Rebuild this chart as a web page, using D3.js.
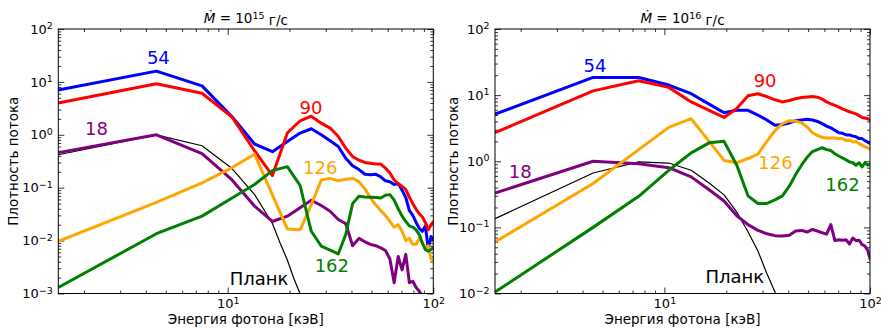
<!DOCTYPE html>
<html>
<head>
<meta charset="utf-8">
<script src="https://cdn.jsdelivr.net/npm/d3@7"></script>
<style>
  body { margin: 0; background: #fff; }
  svg { display: block; }
  text { font-family: "DejaVu Sans", sans-serif; }
</style>
</head>
<body>
<svg id="chart" width="881" height="328"></svg>
<script>
// Photon energy bin centres, keV
const energyKeV = [1.5, 4.5, 7.5, 10.5, 13.5, 16.5, 19.5, 22.5, 25.5, 28.5, 31.5, 34.5,
  37.5, 40.5, 43.5, 46.5, 49.5, 52.5, 55.5, 58.5, 61.5, 64.5, 67.5, 70.5, 73.5, 76.5,
  79.5, 82.5, 85.5, 88.5, 91.5, 94.5, 97.5, 100.5];

// Accretion rate 1e15 g/s: flux density for viewing angles 18, 54, 90, 126, 162 deg
const rate15_theta18 = [0.46, 1.0, 0.44, 0.14, 0.045, 0.023, 0.029, 0.042, 0.058, 0.046, 0.036, 0.025,
  0.021, 0.008, 0.011, 0.0095, 0.0085, 0.008, 0.0073, 0.0065, 0.0045, 0.0016, 0.005, 0.0028, 0.0055, 0.0016,
  0.0017, 0.0013, 0.0011, 0.0009, 0.0008, 0.0007, 0.0006, 0.0006];
const rate15_theta54 = [7.0, 16, 8.4, 2.2, 0.67, 0.48, 0.75, 1.08, 1.30, 1.0, 0.77, 0.60,
  0.36, 0.26, 0.22, 0.18, 0.175, 0.18, 0.16, 0.135, 0.13, 0.115, 0.12, 0.09, 0.065, 0.037,
  0.03, 0.022, 0.017, 0.015, 0.019, 0.007, 0.012, 0.01];
const rate15_theta90 = [4.0, 9.2, 6.1, 2.16, 0.5, 0.17, 1.08, 1.84, 2.25, 1.66, 1.34, 0.93,
  0.56, 0.39, 0.33, 0.30, 0.29, 0.28, 0.28, 0.235, 0.19, 0.14, 0.12, 0.106, 0.092, 0.066,
  0.05, 0.039, 0.032, 0.028, 0.022, 0.016, 0.02, 0.023];
const rate15_theta126 = [0.0097, 0.053, 0.123, 0.24, 0.43, 0.073, 0.0166, 0.016, 0.048, 0.14, 0.15, 0.135,
  0.145, 0.15, 0.13, 0.095, 0.064, 0.047, 0.037, 0.03, 0.023, 0.018, 0.02, 0.015, 0.01, 0.011,
  0.0085, 0.0085, 0.011, 0.009, 0.0068, 0.008, 0.0045, 0.004];
const rate15_theta162 = [0.0013, 0.0135, 0.029, 0.064, 0.115, 0.21, 0.25, 0.11, 0.015, 0.0079, 0.0066, 0.0056,
  0.013, 0.05, 0.069, 0.067, 0.066, 0.065, 0.064, 0.072, 0.074, 0.058, 0.04, 0.029, 0.023, 0.019,
  0.018, 0.016, 0.013, 0.009, 0.0068, 0.0063, 0.0068, 0.0075];
const planck15Energy = [1.5, 4.5, 7.5, 10.5, 13.5, 16.5, 18, 19.5, 21, 22.5, 24];
const planck15Flux = [0.42, 1.0, 0.62, 0.23, 0.075, 0.021, 0.0089, 0.0043, 0.0019, 0.00099, 0.0004];

// Accretion rate 1e16 g/s
const rate16_theta18 = [0.33, 1.0, 0.92, 0.80, 0.58, 0.37, 0.25, 0.15, 0.11, 0.09, 0.08, 0.075,
  0.074, 0.076, 0.088, 0.09, 0.085, 0.093, 0.088, 0.083, 0.079, 0.11, 0.063, 0.065, 0.064, 0.065,
  0.056, 0.069, 0.063, 0.064, 0.055, 0.052, 0.045, 0.032];
const rate16_theta54 = [5.15, 18.5, 18.5, 14.2, 10.5, 7.3, 5.4, 5.9, 5.9, 5.0, 4.2, 3.5,
  3.6, 3.8, 4.1, 4.2, 4.3, 4.2, 4.0, 3.7, 3.4, 3.2, 2.95, 2.7, 2.65, 2.5,
  2.5, 2.4, 2.35, 2.2, 2.2, 2.05, 1.95, 1.85];
const rate16_theta90 = [2.7, 11.6, 16.5, 13.1, 7.9, 5.9, 4.6, 6.3, 9.8, 10.5, 9.5, 8.5,
  7.9, 8.3, 8.8, 9.2, 9.4, 9.5, 9.3, 8.7, 7.9, 7.4, 7.0, 6.6, 6.2, 5.9,
  5.6, 5.4, 5.2, 4.9, 4.6, 4.5, 4.4, 4.2];
const rate16_theta126 = [0.06, 0.46, 1.5, 3.25, 4.4, 2.0, 1.03, 0.95, 1.1, 1.28, 2.0, 2.9,
  3.7, 4.1, 4.05, 3.8, 3.3, 2.7, 2.45, 2.3, 2.25, 2.25, 2.25, 2.2, 2.2, 2.05,
  2.1, 1.95, 2.0, 1.85, 1.75, 1.65, 1.6, 1.5];
const rate16_theta162 = [0.0105, 0.10, 0.295, 0.73, 1.34, 1.9, 2.0, 0.87, 0.3, 0.23, 0.23, 0.26,
  0.3, 0.42, 0.63, 0.88, 1.15, 1.4, 1.5, 1.6, 1.5, 1.45, 1.3, 1.2, 1.12, 1.05,
  0.98, 0.95, 0.87, 0.95, 0.82, 0.95, 0.87, 0.92];
const planck16Energy = [1.5, 4.5, 7.5, 10.5, 13.5, 16.5, 19.5, 22.5, 25.5, 28.5, 31.5, 34.5, 37.5];
const planck16Flux = [0.135, 0.665, 0.98, 0.94, 0.73, 0.47, 0.31, 0.17, 0.086, 0.044, 0.02, 0.0105, 0.005];

// Curve annotations: angle text and where it sits (energy, flux)
const angleLabels = ["18", "54", "90", "126", "162"];
const label15Energy = [2.3, 4.6, 25.4, 28.2, 32.1];
const label15Flux = [1.33, 28.4, 3.3, 0.244, 0.00337];
const label16Energy = [1.99, 4.6, 30.9, 34.7, 73.5];
const label16Flux = [0.69, 28, 16.9, 0.95, 0.449];
const planckLabel = "Планк";
const planckLabel15 = [14.2, 0.00192];
const planckLabel16 = [22.0, 0.0178];

const rateExponents = ["15", "16"];
const energyDomain = [1.5, 100];
const flux15Domain = [1e-3, 1e2];
const flux16Domain = [1e-2, 1e2];

const angleColors = ["#800080", "#0000ff", "#ff0000", "#ffa500", "#008000"];

const svg = d3.select("#chart");
const plotTop = 29, plotBottom = 293.5;

const panels = [
  { id: "p15", x0: 58.3, x1: 433.3, yDomain: flux15Domain, exp: rateExponents[0],
    series: [rate15_theta18, rate15_theta54, rate15_theta90, rate15_theta126, rate15_theta162],
    planckE: planck15Energy, planckF: planck15Flux,
    labE: label15Energy, labF: label15Flux, planckPos: planckLabel15, ylabX: 18.3 },
  { id: "p16", x0: 495, x1: 870, yDomain: flux16Domain, exp: rateExponents[1],
    series: [rate16_theta18, rate16_theta54, rate16_theta90, rate16_theta126, rate16_theta162],
    planckE: planck16Energy, planckF: planck16Flux,
    labE: label16Energy, labF: label16Flux, planckPos: planckLabel16, ylabX: 457.5 }
];

const isDecade = v => Math.abs(Math.log10(v) - Math.round(Math.log10(v))) < 1e-9;

// "10" with a raised exponent
function powerLabel(textSel) {
  textSel.each(function (d) {
    const e = Math.round(Math.log10(d));
    const t = d3.select(this).text(null);
    t.append("tspan").text("10");
    t.append("tspan").attr("dy", "-0.48em").attr("font-size", "9.5px")
      .text(e < 0 ? "\u2212" + (-e) : String(e));
  });
}

function styleAxis(g) {
  g.attr("font-family", "DejaVu Sans, sans-serif").attr("font-size", 13);
  g.select(".domain").remove();
  g.selectAll(".tick line").attr("stroke", "#000").attr("stroke-width", 0.8);
  g.selectAll(".tick text").attr("fill", "#000");
}

panels.forEach(p => {
  const x = d3.scaleLog().domain(energyDomain).range([p.x0, p.x1]);
  const y = d3.scaleLog().domain(p.yDomain).range([plotBottom, plotTop]);
  const g = svg.append("g");

  g.append("clipPath").attr("id", "clip-" + p.id)
    .append("rect").attr("x", p.x0).attr("y", plotTop)
    .attr("width", p.x1 - p.x0).attr("height", plotBottom - plotTop);

  const xMajor = x.ticks().filter(isDecade);
  const xMinor = x.ticks().filter(v => !isDecade(v));
  const yMajor = y.ticks().filter(isDecade);
  const yMinor = y.ticks().filter(v => !isDecade(v));

  // inward ticks on all four sides, labels only on bottom and left
  const axes = [
    [d3.axisBottom(x), `translate(0,${plotBottom})`, xMajor, xMinor, true],
    [d3.axisTop(x), `translate(0,${plotTop})`, xMajor, xMinor, false],
    [d3.axisLeft(y), `translate(${p.x0},0)`, yMajor, yMinor, true],
    [d3.axisRight(y), `translate(${p.x1},0)`, yMajor, yMinor, false]
  ];
  axes.forEach(([ax, tr, major, minor, labelled]) => {
    const gm = g.append("g").attr("transform", tr)
      .call(ax.tickValues(minor).tickSize(-3).tickFormat(() => ""));
    styleAxis(gm);
    gm.selectAll(".tick text").remove();
    const gM = g.append("g").attr("transform", tr)
      .call(ax.tickValues(major).tickSize(-6).tickPadding(labelled ? 5.5 : 0).tickFormat(() => ""));
    styleAxis(gM);
    if (labelled) powerLabel(gM.selectAll(".tick text"));
    else gM.selectAll(".tick text").remove();
  });

  const line = d3.line().x(d => x(d[0])).y(d => y(d[1]));
  const plotArea = g.append("g").attr("clip-path", `url(#clip-${p.id})`);

  plotArea.append("path")
    .attr("d", line(p.planckE.map((e, i) => [e, p.planckF[i]])))
    .attr("fill", "none").attr("stroke", "#000").attr("stroke-width", 1.2)
    .attr("stroke-linejoin", "round");

  p.series.forEach((vals, k) => {
    plotArea.append("path")
      .attr("d", line(energyKeV.map((e, i) => [e, vals[i]])))
      .attr("fill", "none").attr("stroke", angleColors[k]).attr("stroke-width", 3)
      .attr("stroke-linejoin", "round");
  });

  // frame
  g.append("rect").attr("x", p.x0).attr("y", plotTop)
    .attr("width", p.x1 - p.x0).attr("height", plotBottom - plotTop)
    .attr("fill", "none").attr("stroke", "#000").attr("stroke-width", 1);

  // curve annotations
  angleLabels.forEach((t, k) => {
    g.append("text").attr("x", x(p.labE[k])).attr("y", y(p.labF[k]) + 6.5)
      .attr("text-anchor", "middle").attr("font-size", 18).attr("fill", angleColors[k]).text(t);
  });
  g.append("text").attr("x", x(p.planckPos[0])).attr("y", y(p.planckPos[1]) + 6.5)
    .attr("text-anchor", "middle").attr("font-size", 18).attr("fill", "#000").text(planckLabel);

  // title
  const cx = (p.x0 + p.x1) / 2;
  const title = g.append("text").attr("x", cx).attr("y", 23)
    .attr("text-anchor", "middle").attr("font-size", 13.5).attr("fill", "#000");
  title.append("tspan").attr("font-style", "italic").text("\u1E40");
  title.append("tspan").text(" = 10");
  title.append("tspan").attr("dy", "-0.45em").attr("font-size", "9.5px").text(p.exp);
  title.append("tspan").attr("dy", "0.45em").text(" г/с");

  // axis titles
  g.append("text").attr("x", cx).attr("y", 323.5).attr("text-anchor", "middle")
    .attr("font-size", 13.5).attr("fill", "#000").text("Энергия фотона [кэВ]");
  g.append("text")
    .attr("transform", `translate(${p.ylabX},${(plotTop + plotBottom) / 2}) rotate(-90)`)
    .attr("text-anchor", "middle").attr("font-size", 13.5).attr("fill", "#000")
    .text("Плотность потока");
});
</script>
</body>
</html>
